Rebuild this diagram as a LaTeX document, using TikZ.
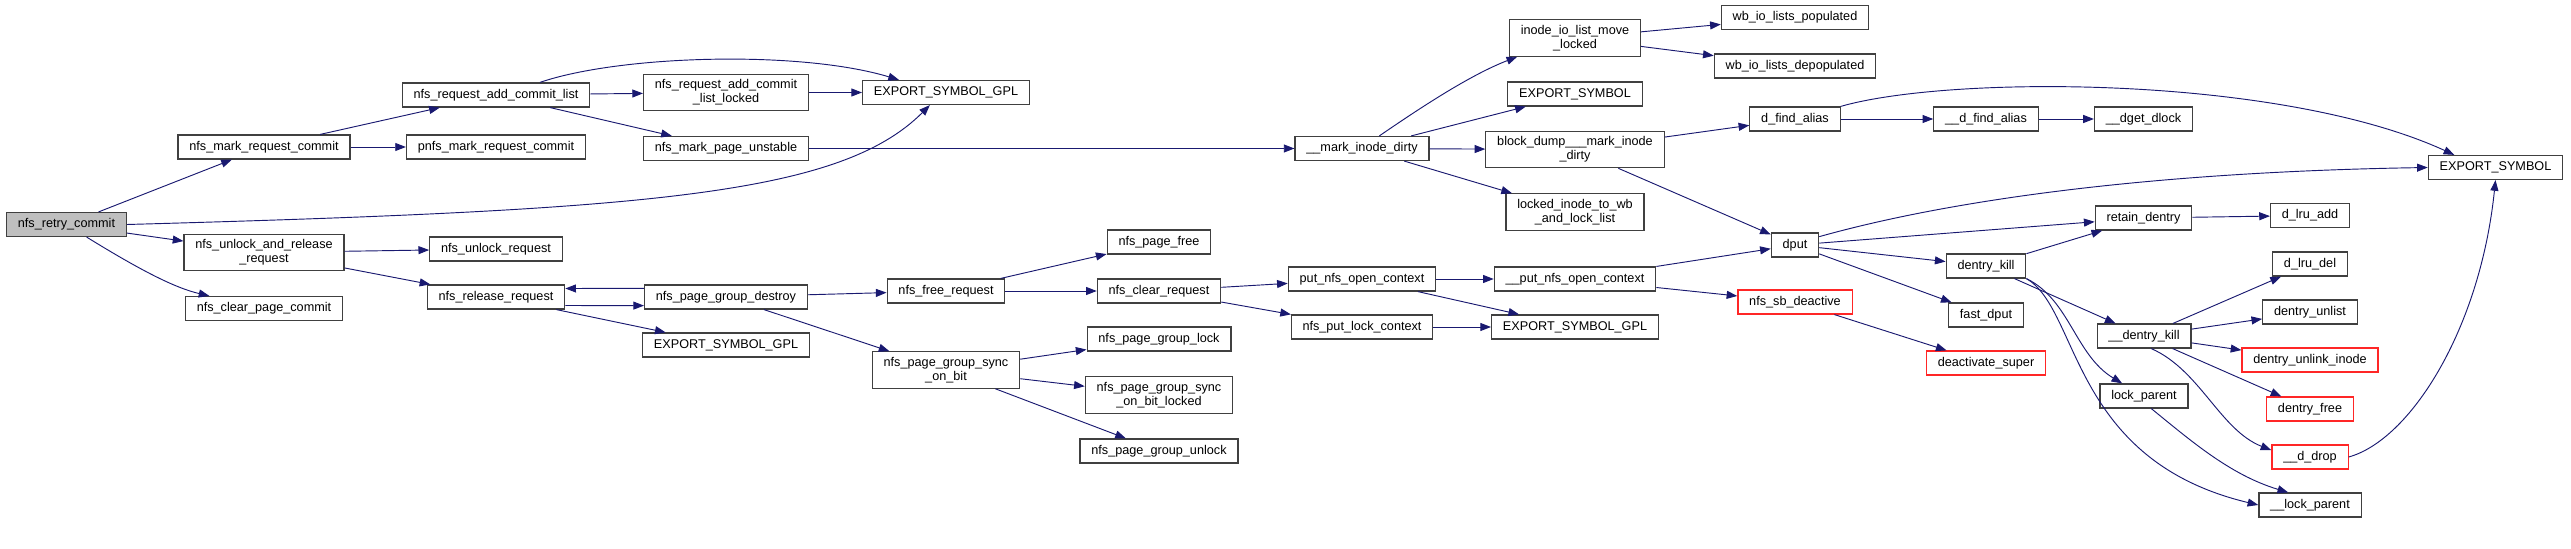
\documentclass[tikz,border=0pt]{standalone}
\usepackage{fontspec}
\setmainfont{Liberation Sans}
\usepackage{tikz}
\usetikzlibrary{arrows.meta}
\definecolor{edgeblue}{HTML}{191970}

\begin{document}
\begin{tikzpicture}[x=0.75pt,y=-0.75pt,
    fn/.style={draw=black!75,line width=0.9pt,fill=white,font=\fontsize{9.5}{10.5}\selectfont,
        align=center,inner xsep=8.5pt,inner ysep=4pt,minimum height=18pt},
    root/.style={fn,fill=black!25},
    warn/.style={fn,draw=red!85!white},
    call/.style={draw=edgeblue,line width=0.7pt,-{Triangle[length=8pt,width=6pt]}}]
\useasboundingbox (0,0) rectangle (2571,549);
% column 1
\node[root] (retry) at (66.5,224.5) {nfs\_retry\_commit};
% column 2
\node[fn] (markreq) at (264,147) {nfs\_mark\_request\_commit};
\node[fn] (unlockrel) at (264,252.5) {nfs\_unlock\_and\_release\\\_request};
\node[fn] (clearpc) at (264,308.5) {nfs\_clear\_page\_commit};
% column 3
\node[fn] (addlist) at (496,95) {nfs\_request\_add\_commit\_list};
\node[fn] (pnfs) at (496,147) {pnfs\_mark\_request\_commit};
\node[fn] (unlockreq) at (496,249) {nfs\_unlock\_request};
\node[fn] (relreq) at (496,297) {nfs\_release\_request};
% column 4
\node[fn] (addlocked) at (726,92.5) {nfs\_request\_add\_commit\\\_list\_locked};
\node[fn] (unstable) at (726,148.5) {nfs\_mark\_page\_unstable};
\node[fn] (pgdestroy) at (726,297) {nfs\_page\_group\_destroy};
\node[fn] (esgplA) at (726,345) {EXPORT\_SYMBOL\_GPL};
% column 5
\node[fn] (esgplB) at (946,92.5) {EXPORT\_SYMBOL\_GPL};
\node[fn] (freereq) at (946,291) {nfs\_free\_request};
\node[fn] (syncbit) at (946,370) {nfs\_page\_group\_sync\\\_on\_bit};
% column 6
\node[fn] (pagefree) at (1159,242) {nfs\_page\_free};
\node[fn] (clearreq) at (1159,291) {nfs\_clear\_request};
\node[fn] (pglock) at (1159,339) {nfs\_page\_group\_lock};
\node[fn] (synclocked) at (1159,395) {nfs\_page\_group\_sync\\\_on\_bit\_locked};
\node[fn] (pgunlock) at (1159,451) {nfs\_page\_group\_unlock};
% column 7
\node[fn] (markdirty) at (1362,148.5) {\_\_mark\_inode\_dirty};
\node[fn] (putopen) at (1362,279) {put\_nfs\_open\_context};
\node[fn] (putlock) at (1362,327) {nfs\_put\_lock\_context};
% column 8
\node[fn] (iomove) at (1575,38) {inode\_io\_list\_move\\\_locked};
\node[fn] (esA) at (1575,94) {EXPORT\_SYMBOL};
\node[fn] (blockdump) at (1575,149.5) {block\_dump\_\_\_mark\_inode\\\_dirty};
\node[fn] (lockedwb) at (1575,212) {locked\_inode\_to\_wb\\\_and\_lock\_list};
\node[fn] (uputopen) at (1575,279) {\_\_put\_nfs\_open\_context};
\node[fn] (esgplC) at (1575,327) {EXPORT\_SYMBOL\_GPL};
% column 9
\node[fn] (populated) at (1795,17.5) {wb\_io\_lists\_populated};
\node[fn] (depopulated) at (1795,66) {wb\_io\_lists\_depopulated};
\node[fn] (dfind) at (1795,119) {d\_find\_alias};
\node[fn] (dput) at (1795,245) {dput};
\node[warn] (sbdeact) at (1795,302) {nfs\_sb\_deactive};
% column 10
\node[fn] (udfind) at (1986,119) {\_\_d\_find\_alias};
\node[fn] (dkill) at (1986,266) {dentry\_kill};
\node[fn] (fastdput) at (1986,315) {fast\_dput};
\node[warn] (deactsuper) at (1986,363) {deactivate\_super};
% column 11
\node[fn] (dget) at (2143.5,119) {\_\_dget\_dlock};
\node[fn] (retain) at (2143.5,218) {retain\_dentry};
\node[fn] (udkill) at (2144,336) {\_\_dentry\_kill};
\node[fn] (lockpar) at (2144,396) {lock\_parent};
% column 12
\node[fn] (lruadd) at (2310,215.5) {d\_lru\_add};
\node[fn] (lrudel) at (2310,264) {d\_lru\_del};
\node[fn] (unlist) at (2310,312) {dentry\_unlist};
\node[warn] (unlink) at (2310,360) {dentry\_unlink\_inode};
\node[warn] (dfree) at (2310,409) {dentry\_free};
\node[warn] (ddrop) at (2310,457) {\_\_d\_drop};
\node[fn] (ulockpar) at (2310,505) {\_\_lock\_parent};
% column 13
\node[fn] (esB) at (2495.5,167.5) {EXPORT\_SYMBOL};

% calls
\draw[call] (retry) -- (markreq);
\draw[call] (retry.east) .. controls (650,210) and (840,195) .. (esgplB.218);
\draw[call] (retry) -- (unlockrel);
\draw[call] (retry.-32) .. controls (140,270) and (175,288) .. (clearpc.167);
\draw[call] (markreq) -- (addlist);
\draw[call] (markreq) -- (pnfs);
\draw[call] (addlist.16) .. controls (620,55) and (800,50) .. (esgplB.165);
\draw[call] (addlist) -- (addlocked);
\draw[call] (addlist) -- (unstable);
\draw[call] (addlocked) -- (esgplB);
\draw[call] (unstable) -- (markdirty);
\draw[call] (unlockrel) -- (unlockreq);
\draw[call] (unlockrel) -- (relreq);
\draw[call] (relreq.-7) -- (pgdestroy.186);
\draw[call] (pgdestroy.174) -- (relreq.7);
\draw[call] (relreq) -- (esgplA);
\draw[call] (pgdestroy) -- (freereq);
\draw[call] (pgdestroy) -- (syncbit);
\draw[call] (freereq) -- (pagefree);
\draw[call] (freereq) -- (clearreq);
\draw[call] (syncbit) -- (pglock);
\draw[call] (syncbit) -- (synclocked);
\draw[call] (syncbit) -- (pgunlock);
\draw[call] (clearreq) -- (putopen);
\draw[call] (clearreq) -- (putlock);
\draw[call] (putopen) -- (uputopen);
\draw[call] (putopen) -- (esgplC);
\draw[call] (putlock) -- (esgplC);
\draw[call] (markdirty.36) .. controls (1420,108) and (1470,75) .. (iomove.198);
\draw[call] (markdirty) -- (esA);
\draw[call] (markdirty) -- (blockdump);
\draw[call] (markdirty) -- (lockedwb);
\draw[call] (iomove) -- (populated);
\draw[call] (iomove) -- (depopulated);
\draw[call] (blockdump) -- (dfind);
\draw[call] (blockdump) -- (dput);
\draw[call] (uputopen) -- (dput);
\draw[call] (uputopen) -- (sbdeact);
\draw[call] (dfind) -- (udfind);
\draw[call] (dfind.north east) .. controls (1950,75) and (2280,75) .. (esB.163);
\draw[call] (udfind) -- (dget);
\draw[call] (dput.19) .. controls (1950,200) and (2150,172) .. (esB.west);
\draw[call] (dput) -- (retain);
\draw[call] (dput) -- (dkill);
\draw[call] (dput) -- (fastdput);
\draw[call] (sbdeact) -- (deactsuper);
\draw[call] (dkill) -- (retain);
\draw[call] (dkill) -- (udkill);
\draw[call] (dkill.south east) .. controls (2070,300) and (2075,355) .. (lockpar.150);
\draw[call] (dkill.south east) .. controls (2080,310) and (2070,460) .. (ulockpar.west);
\draw[call] (retain) -- (lruadd);
\draw[call] (udkill) -- (lrudel);
\draw[call] (udkill) -- (unlist);
\draw[call] (udkill) -- (unlink);
\draw[call] (udkill) -- (dfree);
\draw[call] (udkill.-60) .. controls (2200,370) and (2220,430) .. (ddrop.170);
\draw[call] (lockpar.-60) .. controls (2190,440) and (2230,475) .. (ulockpar.150);
\draw[call] (ddrop.east) .. controls (2410,440) and (2480,330) .. (esB.south);
\end{tikzpicture}
\end{document}
